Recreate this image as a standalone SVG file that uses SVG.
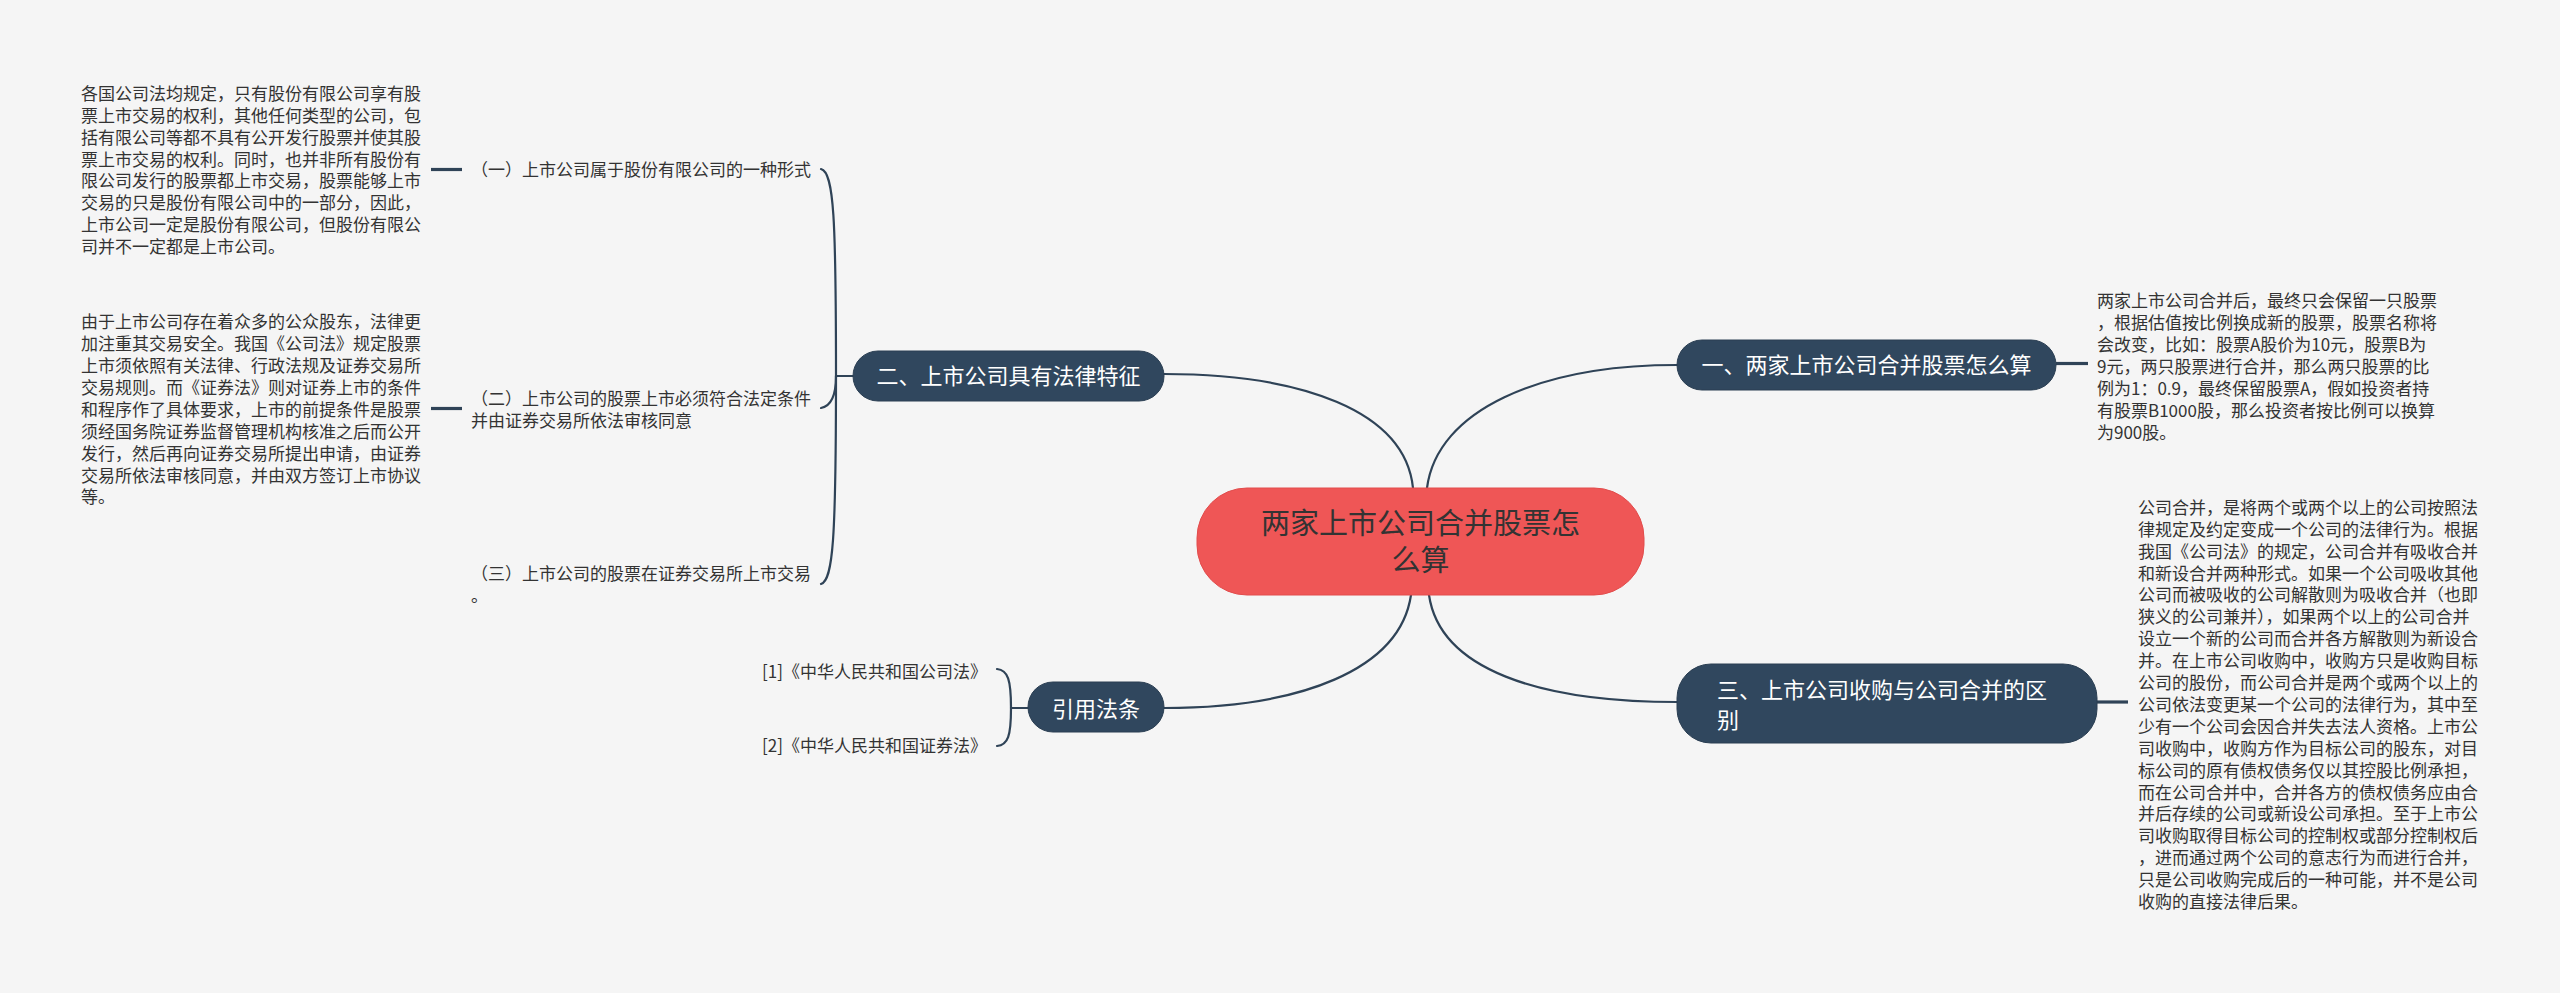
<svg xmlns="http://www.w3.org/2000/svg" width="2560" height="993" viewBox="0 0 2560 993">
<defs>
<style>
.bg{fill:#f5f5f5}
.conn{fill:none;stroke:#2f4357;stroke-width:2.2;stroke-linecap:round}
.stub{fill:none;stroke:#2f4357;stroke-width:3.2}
.node{fill:#30475e;stroke:#2a3e52;stroke-width:1}
.root{fill:#ef5656;stroke:#e24c4c;stroke-width:1}
.t{font-family:"Noto Sans CJK SC","Liberation Sans",sans-serif;font-size:17px;fill:#333333}
.nt{font-family:"Noto Sans CJK SC","Liberation Sans",sans-serif;font-size:22px;fill:#ffffff}
.rt{font-family:"Noto Sans CJK SC","Liberation Sans",sans-serif;font-size:29px;fill:#333333}
</style>
</defs>
<rect class="bg" x="0" y="0" width="2560" height="993"/>

<g id="connectors">
<path class="conn" d="M1164 374 C1300 374 1405 410 1413 488"/>
<path class="conn" d="M1427 488 C1437 410 1540 365 1677 365"/>
<path class="conn" d="M1429 595 C1440 670 1540 702 1677 702"/>
<path class="conn" d="M1411 595 C1400 670 1300 708 1164 708"/>
<path class="conn" d="M853 376 L836 376"/>
<path class="conn" d="M836 376 C836 220 834 172 821 169"/>
<path class="conn" d="M836 376 C836 395 832 406 821 408"/>
<path class="conn" d="M836 376 C836 540 833 580 821 584"/>
<path class="conn" d="M1028 708 L1011 708"/>
<path class="conn" d="M1011 708 C1011 680 1008 670 997 669"/>
<path class="conn" d="M1011 708 C1011 736 1008 745 997 746"/>
<path class="stub" d="M431 169.5 L462 169.5"/>
<path class="stub" d="M431 408.5 L462 408.5"/>
<path class="stub" d="M2056 363.5 L2088 363.5"/>
<path class="stub" d="M2097 702 L2128 702"/>
</g>

<g id="root">
<rect class="root" x="1197" y="488" width="447" height="107" rx="50"/>
<text class="rt" text-anchor="middle"><tspan x="1420.5" y="534">两家上市公司合并股票怎</tspan><tspan x="1420.5" y="571">么算</tspan></text>
</g>

<g id="node-2">
<rect class="node" x="853" y="351" width="311" height="50" rx="25"/>
<text class="nt" x="1008.5" y="384.4" text-anchor="middle">二、上市公司具有法律特征</text>
</g>

<g id="node-1">
<rect class="node" x="1677" y="340" width="379" height="50" rx="25"/>
<text class="nt" x="1866.5" y="373.4" text-anchor="middle">一、两家上市公司合并股票怎么算</text>
</g>

<g id="node-3">
<rect class="node" x="1677" y="664" width="420" height="79" rx="34"/>
<text class="nt"><tspan x="1717" y="697.7">三、上市公司收购与公司合并的区</tspan><tspan x="1717" y="728.4">别</tspan></text>
</g>

<g id="node-law">
<rect class="node" x="1028" y="682" width="136" height="50" rx="25"/>
<text class="nt" x="1096" y="716.7" text-anchor="middle">引用法条</text>
</g>

<g id="sub-2-1">
<text class="t" x="471" y="175.8">（一）上市公司属于股份有限公司的一种形式</text>
</g>
<g id="sub-2-2">
<text class="t"><tspan x="471" y="404.8">（二）上市公司的股票上市必须符合法定条件</tspan><tspan x="471" y="426.6">并由证券交易所依法审核同意</tspan></text>
</g>
<g id="sub-2-3">
<text class="t"><tspan x="471" y="579.8">（三）上市公司的股票在证券交易所上市交易</tspan><tspan x="471" y="601.6">。</tspan></text>
</g>

<g id="note-2-1">
<text class="t">
<tspan x="81" y="99.8">各国公司法均规定，只有股份有限公司享有股</tspan>
<tspan x="81" y="121.7">票上市交易的权利，其他任何类型的公司，包</tspan>
<tspan x="81" y="143.6">括有限公司等都不具有公开发行股票并使其股</tspan>
<tspan x="81" y="165.5">票上市交易的权利。同时，也并非所有股份有</tspan>
<tspan x="81" y="187.4">限公司发行的股票都上市交易，股票能够上市</tspan>
<tspan x="81" y="209.3">交易的只是股份有限公司中的一部分，因此，</tspan>
<tspan x="81" y="231.2">上市公司一定是股份有限公司，但股份有限公</tspan>
<tspan x="81" y="253.1">司并不一定都是上市公司。</tspan>
</text>
</g>

<g id="note-2-2">
<text class="t">
<tspan x="81" y="328.2">由于上市公司存在着众多的公众股东，法律更</tspan>
<tspan x="81" y="350.1">加注重其交易安全。我国《公司法》规定股票</tspan>
<tspan x="81" y="372.0">上市须依照有关法律、行政法规及证券交易所</tspan>
<tspan x="81" y="393.9">交易规则。而《证券法》则对证券上市的条件</tspan>
<tspan x="81" y="415.8">和程序作了具体要求，上市的前提条件是股票</tspan>
<tspan x="81" y="437.7">须经国务院证券监督管理机构核准之后而公开</tspan>
<tspan x="81" y="459.6">发行，然后再向证券交易所提出申请，由证券</tspan>
<tspan x="81" y="481.5">交易所依法审核同意，并由双方签订上市协议</tspan>
<tspan x="81" y="503.4">等。</tspan>
</text>
</g>

<g id="note-1">
<text class="t">
<tspan x="2097" y="307.2">两家上市公司合并后，最终只会保留一只股票</tspan>
<tspan x="2097" y="329.1">，根据估值按比例换成新的股票，股票名称将</tspan>
<tspan x="2097" y="351.0">会改变，比如：股票A股价为10元，股票B为</tspan>
<tspan x="2097" y="372.9">9元，两只股票进行合并，那么两只股票的比</tspan>
<tspan x="2097" y="394.8">例为1：0.9，最终保留股票A，假如投资者持</tspan>
<tspan x="2097" y="416.7">有股票B1000股，那么投资者按比例可以换算</tspan>
<tspan x="2097" y="438.6">为900股。</tspan>
</text>
</g>

<g id="note-3">
<text class="t">
<tspan x="2138" y="513.8">公司合并，是将两个或两个以上的公司按照法</tspan>
<tspan x="2138" y="535.7">律规定及约定变成一个公司的法律行为。根据</tspan>
<tspan x="2138" y="557.6">我国《公司法》的规定，公司合并有吸收合并</tspan>
<tspan x="2138" y="579.5">和新设合并两种形式。如果一个公司吸收其他</tspan>
<tspan x="2138" y="601.4">公司而被吸收的公司解散则为吸收合并（也即</tspan>
<tspan x="2138" y="623.3">狭义的公司兼并），如果两个以上的公司合并</tspan>
<tspan x="2138" y="645.2">设立一个新的公司而合并各方解散则为新设合</tspan>
<tspan x="2138" y="667.1">并。在上市公司收购中，收购方只是收购目标</tspan>
<tspan x="2138" y="689.0">公司的股份，而公司合并是两个或两个以上的</tspan>
<tspan x="2138" y="710.9">公司依法变更某一个公司的法律行为，其中至</tspan>
<tspan x="2138" y="732.8">少有一个公司会因合并失去法人资格。上市公</tspan>
<tspan x="2138" y="754.7">司收购中，收购方作为目标公司的股东，对目</tspan>
<tspan x="2138" y="776.6">标公司的原有债权债务仅以其控股比例承担，</tspan>
<tspan x="2138" y="798.5">而在公司合并中，合并各方的债权债务应由合</tspan>
<tspan x="2138" y="820.4">并后存续的公司或新设公司承担。至于上市公</tspan>
<tspan x="2138" y="842.3">司收购取得目标公司的控制权或部分控制权后</tspan>
<tspan x="2138" y="864.2">，进而通过两个公司的意志行为而进行合并，</tspan>
<tspan x="2138" y="886.1">只是公司收购完成后的一种可能，并不是公司</tspan>
<tspan x="2138" y="908.0">收购的直接法律后果。</tspan>
</text>
</g>

<g id="law-1">
<text class="t" x="762" y="677.8">[1]《中华人民共和国公司法》</text>
</g>
<g id="law-2">
<text class="t" x="762" y="752.2">[2]《中华人民共和国证券法》</text>
</g>
</svg>
